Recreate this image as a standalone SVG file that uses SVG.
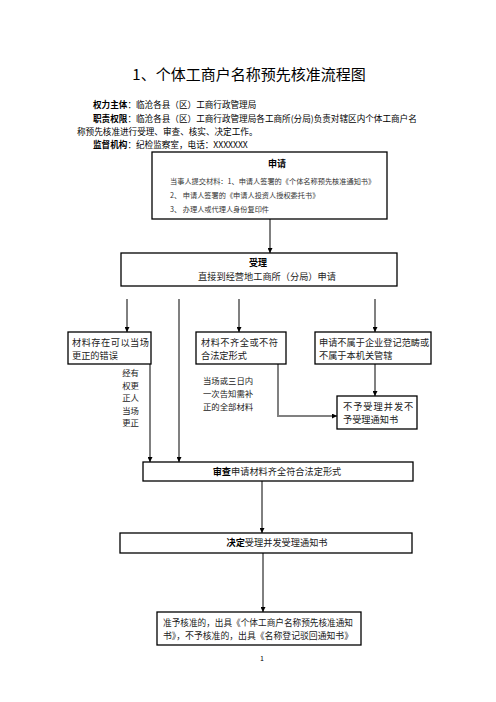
<svg xmlns="http://www.w3.org/2000/svg" width="496" height="702" viewBox="0 0 496 702">
<defs>
<style>
.t{font-family:"Noto Sans CJK SC","Liberation Sans",sans-serif;fill:#000}
.h{font-size:8.6px}
.b{font-size:9.2px;fill:#222}
.n{font-size:8.4px;fill:#222}
.s{font-size:7.2px;fill:#333}
.bold{font-weight:bold;fill:#000}
.box{fill:#fff;stroke:#000;stroke-width:1.3}
.g{fill:none;stroke:#808080;stroke-width:2}
.k{fill:none;stroke:#000;stroke-width:1}
</style>
<marker id="ah" viewBox="0 0 10 10" refX="10" refY="5" markerWidth="5" markerHeight="5" markerUnits="userSpaceOnUse" orient="auto">
<path d="M0,0 L10,5 L0,10 z" fill="#000"/>
</marker>
</defs>
<rect width="496" height="702" fill="#fff"/>
<g id="header">
<text class="t" x="249" y="80" font-size="15" text-anchor="middle">1、个体工商户名称预先核准流程图</text>
<text class="t h" x="93" y="108"><tspan class="bold">权力主体</tspan>：临沧各县（区）工商行政管理局</text>
<text class="t h" x="93" y="122"><tspan class="bold">职责权限</tspan>：临沧各县（区）工商行政管理局各工商所(分局)负责对辖区内个体工商户名</text>
<text class="t h" x="77" y="135">称预先核准进行受理、审查、核实、决定工作。</text>
<text class="t h" x="93" y="148"><tspan class="bold">监督机构</tspan>：纪检监察室，电话：XXXXXXX</text>
</g>
<g id="connectors">
<line class="g" x1="270" y1="219" x2="270" y2="253" marker-end="url(#ah)"/>
<line class="k" x1="127" y1="299" x2="127" y2="332" marker-end="url(#ah)"/>
<line class="g" x1="179" y1="299" x2="179" y2="462" marker-end="url(#ah)"/>
<line class="g" x1="239" y1="299" x2="239" y2="332" marker-end="url(#ah)"/>
<line class="g" x1="375" y1="299" x2="375" y2="332" marker-end="url(#ah)"/>
<line class="g" x1="150" y1="364" x2="150" y2="462" marker-end="url(#ah)"/>
<line class="g" x1="375" y1="364" x2="375" y2="396" marker-end="url(#ah)"/>
<polyline class="g" points="278,364 278,416 337,416" marker-end="url(#ah)"/>
<line class="k" x1="262" y1="481" x2="262" y2="533" marker-end="url(#ah)"/>
<line class="k" x1="263" y1="553" x2="263" y2="612" marker-end="url(#ah)"/>
</g>
<g id="apply">
<rect class="box" x="152" y="152" width="235" height="67"/>
<text class="t bold" x="277" y="167" font-size="9" text-anchor="middle">申请</text>
<text class="t s" x="170" y="184">当事人提交材料：1、申请人签署的《个体名称预先核准通知书》</text>
<text class="t s" x="170" y="198">2、  申请人签署的《申请人投资人授权委托书》</text>
<text class="t s" x="170" y="212">3、  办理人或代理人身份复印件</text>
</g>
<g id="accept">
<rect class="box" x="121" y="253" width="276" height="33"/>
<text class="t bold" x="258" y="266" font-size="9" text-anchor="middle">受理</text>
<text class="t b" x="267" y="280" font-size="8.7" text-anchor="middle">直接到经营地工商所（分局）申请</text>
</g>
<g id="correctable">
<rect class="box" x="68" y="332" width="83" height="32"/>
<text class="t b" x="72" y="346" letter-spacing="0.5">材料存在可以当场</text>
<text class="t b" x="72" y="359">更正的错误</text>
</g>
<g id="note1">
<text class="t n" x="139" y="376" text-anchor="end">经有</text>
<text class="t n" x="139" y="388.5" text-anchor="end">权更</text>
<text class="t n" x="139" y="401" text-anchor="end">正人</text>
<text class="t n" x="139" y="413.5" text-anchor="end">当场</text>
<text class="t n" x="139" y="426" text-anchor="end">更正</text>
</g>
<g id="incomplete">
<rect class="box" x="196" y="332" width="90" height="32"/>
<text class="t b" x="201" y="346" letter-spacing="0.5">材料不齐全或不符</text>
<text class="t b" x="201" y="359">合法定形式</text>
</g>
<g id="note2">
<text class="t n" x="203" y="384">当场或三日内</text>
<text class="t n" x="203" y="397">一次告知需补</text>
<text class="t n" x="203" y="410">正的全部材料</text>
</g>
<g id="outofscope">
<rect class="box" x="315" y="332" width="116" height="32"/>
<text class="t b" x="319" y="346" font-size="9">申请不属于企业登记范畴或</text>
<text class="t b" x="319" y="359" font-size="9">不属于本机关管辖</text>
</g>
<g id="reject">
<rect class="box" x="337" y="396" width="80" height="33"/>
<text class="t b" x="343" y="410" letter-spacing="1">不予受理并发不</text>
<text class="t b" x="343" y="423">予受理通知书</text>
</g>
<g id="review">
<rect class="box" x="143" y="462" width="270" height="19"/>
<text class="t b" x="277" y="475" text-anchor="middle" font-size="8.8"><tspan class="bold">审查</tspan>申请材料齐全符合法定形式</text>
</g>
<g id="decide">
<rect class="box" x="120" y="533" width="292" height="20"/>
<text class="t b" x="277" y="546" text-anchor="middle" font-size="8.7"><tspan class="bold">决定</tspan>受理并发受理通知书</text>
</g>
<g id="result">
<rect class="box" x="157" y="612" width="204" height="33"/>
<text class="t b" x="163" y="626" font-size="8.4" textLength="190" lengthAdjust="spacingAndGlyphs">准予核准的，出具《个体工商户名称预先核准通知</text>
<text class="t b" x="163" y="639" font-size="8.4" textLength="190" lengthAdjust="spacingAndGlyphs">书》，不予核准的，出具《名称登记驳回通知书》</text>
</g>
<g id="page">
<text class="t" x="262" y="661" font-size="7" text-anchor="middle">1</text>
</g>
</svg>
